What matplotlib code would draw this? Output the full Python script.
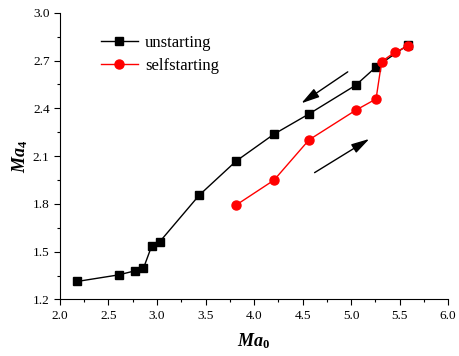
import matplotlib
matplotlib.use("Agg")
import matplotlib.pyplot as plt
from matplotlib.ticker import MultipleLocator

plt.rcParams['font.family'] = ['Liberation Serif', 'DejaVu Serif']
plt.rcParams['mathtext.fontset'] = 'custom'
plt.rcParams['mathtext.rm'] = 'Liberation Serif'
plt.rcParams['mathtext.it'] = 'Liberation Serif:italic'
plt.rcParams['mathtext.bf'] = 'Liberation Serif:bold'
plt.rcParams['mathtext.bfit'] = 'Liberation Serif:bold:italic'

unstart_x = [2.18, 2.605, 2.777, 2.86, 2.945, 3.028, 3.436, 3.814, 4.206, 4.567, 5.048, 5.258, 5.59]
unstart_y = [1.313, 1.354, 1.38, 1.395, 1.535, 1.562, 1.855, 2.068, 2.238, 2.365, 2.545, 2.66, 2.80]
self_x = [3.814, 4.206, 4.567, 5.048, 5.258, 5.316, 5.457, 5.59]
self_y = [1.792, 1.949, 2.202, 2.388, 2.459, 2.694, 2.755, 2.79]
labels = ["unstarting", "selfstarting"]

fig = plt.figure(figsize=(4.6, 3.56), dpi=100)
ax = fig.add_axes([0.1304, 0.159, 0.8436, 0.805])

ax.plot(unstart_x, unstart_y, '-s', color='black', lw=1.0, ms=6, label=labels[0])
ax.plot(self_x, self_y, '-o', color='red', lw=1.0, ms=6.5, label=labels[1])

ax.annotate('', xy=(4.464, 2.422), xytext=(4.99, 2.639),
            arrowprops=dict(arrowstyle='-|>,head_length=1.1,head_width=0.3', color='black', lw=1.0))
ax.annotate('', xy=(5.213, 2.217), xytext=(4.60, 1.987),
            arrowprops=dict(arrowstyle='-|>,head_length=1.1,head_width=0.3', color='black', lw=1.0))

ax.set_xlim(2.0, 6.0)
ax.set_ylim(1.2, 3.0)
ax.xaxis.set_major_locator(MultipleLocator(0.5))
ax.xaxis.set_minor_locator(MultipleLocator(0.25))
ax.yaxis.set_major_locator(MultipleLocator(0.3))
ax.yaxis.set_minor_locator(MultipleLocator(0.15))
ax.spines['top'].set_visible(False)
ax.spines['right'].set_visible(False)
ax.tick_params(which='major', direction='out', length=4, width=0.8, labelsize=9.5)
ax.tick_params(which='minor', direction='out', length=2.5, width=0.8)
ax.xaxis.set_major_formatter(matplotlib.ticker.FormatStrFormatter('%.1f'))
ax.yaxis.set_major_formatter(matplotlib.ticker.FormatStrFormatter('%.1f'))

ax.set_xlabel(r'$\boldsymbol{Ma}_{\mathbf{0}}$', fontsize=13, labelpad=7)
ax.set_ylabel(r'$\boldsymbol{Ma}_{\mathbf{4}}$', fontsize=13, labelpad=2)

leg = ax.legend(loc='upper left', bbox_to_anchor=(0.106, 0.922), frameon=False,
                borderpad=0, borderaxespad=0,
                fontsize=12, handlelength=2.2, handletextpad=0.42, labelspacing=0.38)

fig.savefig('out.png', dpi=100)
